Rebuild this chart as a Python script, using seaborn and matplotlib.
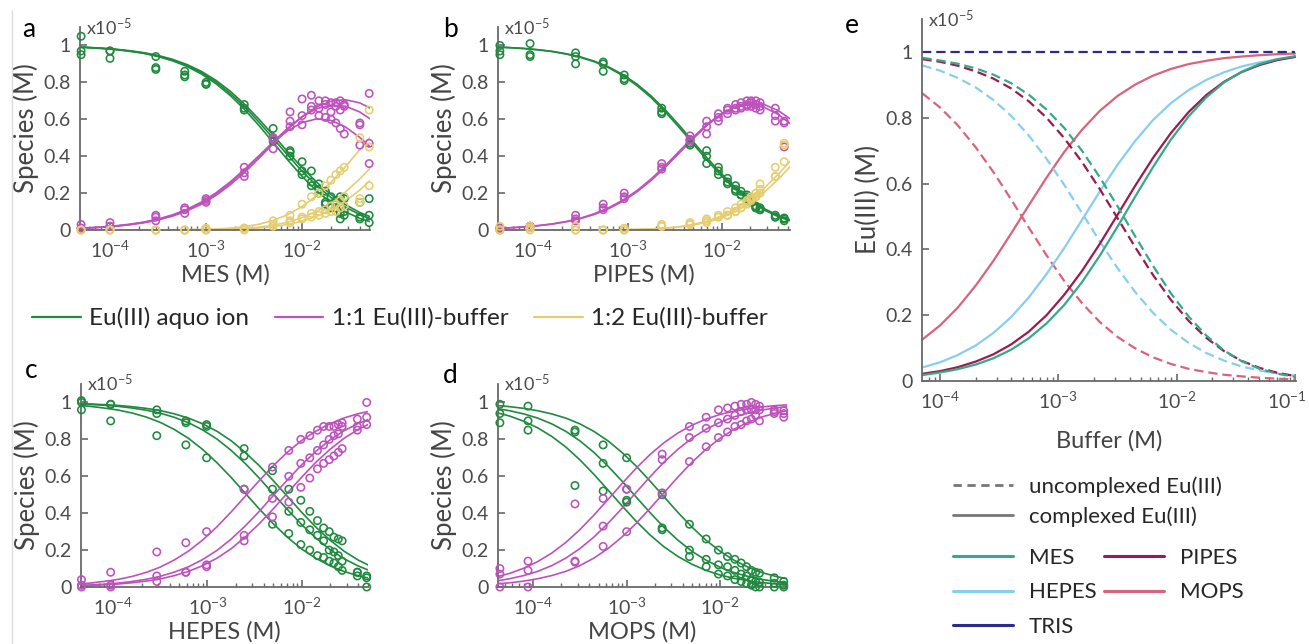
import matplotlib
matplotlib.use("Agg")
import numpy as np
import pandas as pd
import matplotlib.pyplot as plt
from matplotlib.lines import Line2D
from matplotlib.transforms import ScaledTranslation
from matplotlib.ticker import FixedLocator, LogLocator, NullFormatter
import seaborn as sns

# ------------------------------------------------------------------ data
# Buffer concentrations (M) at which the fitted speciation curves are drawn
fit_conc = [3.98e-5, 5.62e-5, 7.94e-5, 1.12e-4, 1.58e-4, 2.24e-4, 3.16e-4, 4.47e-4, 6.31e-4, 8.91e-4,
            1.26e-3, 1.78e-3, 2.51e-3, 3.55e-3, 5.01e-3, 7.08e-3, 1e-2, 1.41e-2, 2.0e-2, 2.82e-2,
            3.98e-2, 5.62e-2]
fit_conc_e = [7.08e-5, 1e-4, 1.41e-4, 2e-4, 2.82e-4, 3.98e-4, 5.62e-4, 7.94e-4, 1.12e-3, 1.58e-3,
              2.24e-3, 3.16e-3, 4.47e-3, 6.31e-3, 8.91e-3, 1.26e-2, 1.78e-2, 2.51e-2, 3.55e-2, 5.01e-2,
              7.08e-2, 0.1]

# Titration points (M buffer) of each experiment
mes_conc = [5e-5, 1e-4, 3e-4, 6e-4, 1e-3, 2.5e-3, 5e-3, 7.5e-3, 1e-2, 1.25e-2, 1.5e-2, 1.75e-2,
            2e-2, 2.25e-2, 2.5e-2, 2.75e-2, 4e-2, 5e-2]
pipes_conc = [4.4e-5, 9.2e-5, 2.8e-4, 5.5e-4, 9.2e-4, 2.3e-3, 4.6e-3, 6.9e-3, 9.2e-3, 1.15e-2, 1.4e-2,
              1.6e-2, 1.85e-2, 2.05e-2, 2.3e-2, 2.55e-2, 3.7e-2, 4.6e-2]
hepes_conc = [4.6e-5, 9.4e-5, 2.9e-4, 5.9e-4, 9.8e-4, 2.45e-3, 4.9e-3, 7.3e-3, 9.8e-3, 1.22e-2, 1.47e-2,
              1.71e-2, 1.96e-2, 2.2e-2, 2.45e-2, 2.69e-2, 3.9e-2, 4.9e-2]
mops_conc = [4.4e-5, 8.8e-5, 2.8e-4, 5.6e-4, 1e-3, 2.4e-3, 4.7e-3, 7.1e-3, 9.6e-3, 1.2e-2, 1.44e-2,
             1.68e-2, 1.92e-2, 2.16e-2, 2.4e-2, 2.64e-2, 3.8e-2, 4.8e-2]

# --- a: MES, three replicates (species in units of 1e-5 M)
mes_aquo_fit = [
    [.993, .990, .986, .980, .972, .961, .946, .925, .897, .860, .812, .753, .682, .601, .514, .424, .338, .260, .192, .138, .095, .064],
    [.992, .989, .985, .979, .970, .959, .943, .920, .891, .853, .803, .741, .669, .585, .496, .406, .319, .242, .176, .124, .084, .054],
    [.992, .989, .984, .978, .969, .957, .940, .917, .887, .846, .794, .730, .654, .567, .474, .380, .291, .213, .148, .099, .063, .039]]
mes_11_fit = [
    [.007, .010, .014, .020, .028, .039, .054, .075, .103, .139, .186, .244, .311, .388, .468, .546, .614, .666, .698, .706, .689, .650],
    [.008, .011, .015, .021, .029, .041, .057, .079, .108, .146, .195, .254, .323, .399, .478, .552, .614, .657, .677, .671, .640, .588],
    [.008, .011, .016, .022, .031, .043, .059, .082, .112, .151, .200, .260, .328, .402, .475, .538, .582, .602, .594, .559, .502, .433]]
mes_12_fit = [
    [0, 0, 0, 0, 0, 0, 0, 0, .001, .001, .002, .003, .006, .011, .018, .030, .048, .074, .110, .156, .216, .287],
    [0, 0, 0, 0, 0, 0, 0, 0, .001, .001, .003, .005, .009, .015, .026, .042, .067, .100, .147, .205, .276, .358],
    [0, 0, 0, 0, 0, 0, 0, .001, .002, .003, .005, .010, .018, .031, .052, .083, .127, .185, .258, .342, .435, .529]]
mes_aquo_pts = [[1.05, .97, .95], [.97, .97, .93], [.94, .88, .87], [.86, .84, .83], [.80, .79, .79],
                [.68, .66, .65], [.55, .50, .48], [.43, .42, .40], [.37, .32, .30], [.32, .26, .24],
                [.25, .22, .20], [.21, .15, .14], [.18, .13, .12], [.16, .14, .12], [.18, .09, .06],
                [.17, .10, .08], [.15, .07, .06], [.17, .08, .04]]
mes_11_pts = [[.03, .01, .01], [.04, .02, .02], [.08, .07, .05], [.12, .11, .09], [.17, .16, .15],
              [.34, .31, .29], [.50, .49, .44], [.64, .59, .56], [.71, .62, .57], [.73, .67, .65],
              [.70, .66, .62], [.70, .68, .61], [.69, .64, .60], [.69, .67, .58], [.70, .65, .55],
              [.68, .67, .52], [.58, .57, .46], [.74, .47, .36]]
mes_12_pts = [[0, 0, 0], [0, 0, 0], [0, 0, 0], [0, 0, 0], [.01, 0, 0],
              [.01, .01, 0], [.05, .03, .02], [.08, .05, .04], [.14, .07, .06], [.18, .09, .07],
              [.20, .10, .08], [.24, .11, .09], [.27, .13, .10], [.30, .14, .10], [.32, .16, .12],
              [.34, .18, .13], [.50, .17, .15], [.65, .45, .24]]

# --- b: PIPES, two replicates
pipes_aquo_fit = [
    [.992, .988, .984, .977, .968, .955, .938, .914, .883, .842, .790, .726, .651, .566, .476, .387, .303, .228, .165, .116, .078, .051],
    [.991, .988, .983, .976, .967, .953, .935, .911, .879, .836, .782, .717, .640, .554, .464, .374, .291, .218, .156, .108, .072, .046]]
pipes_11_fit = [
    [.008, .012, .016, .023, .032, .045, .062, .085, .116, .156, .207, .269, .340, .418, .497, .570, .630, .671, .688, .680, .647, .594],
    [.009, .012, .017, .024, .033, .046, .064, .089, .121, .162, .214, .277, .349, .428, .505, .576, .632, .668, .679, .665, .626, .567]]
pipes_12_fit = [
    [0, 0, 0, 0, 0, 0, 0, 0, .001, .001, .003, .005, .009, .016, .027, .043, .067, .101, .147, .204, .275, .356],
    [0, 0, 0, 0, 0, 0, 0, 0, .001, .002, .003, .006, .011, .018, .031, .049, .077, .114, .164, .227, .302, .386]]
pipes_aquo_pts = [[1.0, .97, .95], [1.01, .95, .94], [.96, .94, .90], [.91, .90, .86], [.84, .82, .81],
                  [.66, .64, .63], [.49, .47, .46], [.43, .40, .36], [.34, .32, .30], [.28, .26, .25],
                  [.24, .22, .21], [.21, .19, .19], [.19, .18, .17], [.16, .15, .15], [.13, .12, .12],
                  [.12, .11, .11], [.08, .07, .07], [.065, .06, .05]]
pipes_11_pts = [[.01, 0, .01], [.02, .02, .02], [.08, .06, .05], [.14, .12, .11], [.20, .18, .17],
                [.36, .34, .33], [.51, .49, .48], [.59, .56, .52], [.63, .61, .59], [.66, .65, .63],
                [.68, .66, .65], [.69, .67, .66], [.70, .68, .67], [.70, .69, .67], [.70, .68, .66],
                [.69, .67, .65], [.66, .62, .59], [.59, .58, .45]]
pipes_12_pts = [[.02, 0, 0], [.02, .01, 0], [.02, 0, 0], [0, 0, 0], [.01, 0, 0],
                [.03, .02, .02], [.04, .03, .03], [.06, .05, .04], [.08, .07, .07], [.10, .08, .08],
                [.12, .10, .10], [.14, .12, .12], [.16, .15, .14], [.18, .17, .16], [.20, .18, .18],
                [.25, .22, .20], [.34, .29, .29], [.47, .46, .37]]

# --- c: HEPES, three replicates (1:1 complex only)
hepes_aquo_fit = [
    [.985, .979, .970, .959, .943, .921, .892, .853, .805, .745, .674, .594, .509, .423, .342, .269, .206, .156, .115, .084, .061, .044],
    [.992, .989, .985, .979, .970, .958, .942, .919, .890, .851, .802, .741, .670, .590, .504, .419, .338, .266, .203, .153, .114, .083],
    [.994, .992, .988, .984, .977, .968, .956, .938, .915, .884, .844, .793, .730, .657, .576, .490, .405, .325, .254, .194, .146, .108]]
hepes_11_fit = [
    [.015, .021, .030, .041, .057, .079, .108, .147, .195, .255, .326, .406, .491, .577, .658, .731, .794, .844, .885, .916, .939, .956],
    [.008, .011, .015, .021, .030, .042, .058, .081, .110, .149, .198, .259, .330, .410, .496, .581, .662, .734, .797, .847, .886, .917],
    [.006, .008, .012, .016, .023, .032, .044, .062, .085, .116, .156, .207, .270, .343, .424, .510, .595, .675, .746, .806, .854, .892]]
hepes_aquo_pts = [[1.01, 1.0, .96], [.99, .99, .90], [.96, .94, .82], [.90, .89, .77], [.88, .87, .70],
                  [.75, .71, .53], [.63, .53, .34], [.53, .41, .29], [.47, .35, .23], [.41, .31, .20],
                  [.36, .28, .17], [.32, .25, .16], [.30, .20, .14], [.27, .19, .13], [.26, .17, .11],
                  [.25, .14, .09], [.08, .06, .08], [.06, .05, 0]]
hepes_11_pts = [[.04, .01, 0], [.08, .01, 0], [.19, .06, .03], [.24, .08, .08], [.30, .12, .11],
                [.53, .28, .25], [.65, .48, .38], [.74, .60, .46], [.80, .67, .54], [.82, .70, .59],
                [.85, .74, .64], [.87, .77, .67], [.87, .80, .69], [.87, .82, .71], [.88, .83, .73],
                [.89, .87, .75], [.91, .87, .85], [1.0, .92, .88]]

# --- d: MOPS, three replicates (1:1 complex only)
mops_aquo_fit = [
    [.946, .926, .898, .862, .816, .758, .689, .610, .526, .440, .357, .282, .218, .165, .123, .090, .065, .047, .034, .024, .017, .012],
    [.968, .955, .938, .915, .884, .843, .792, .729, .655, .574, .488, .403, .323, .253, .193, .145, .107, .078, .057, .041, .029, .021],
    [.984, .977, .968, .955, .938, .915, .884, .843, .792, .729, .656, .574, .489, .403, .324, .253, .194, .145, .107, .078, .057, .041]]
mops_11_fit = [
    [.054, .074, .102, .138, .184, .242, .311, .390, .474, .560, .643, .718, .782, .835, .877, .910, .935, .953, .966, .976, .983, .988],
    [.032, .045, .062, .085, .116, .157, .208, .271, .345, .426, .512, .597, .677, .747, .807, .855, .893, .922, .943, .959, .971, .979],
    [.016, .023, .032, .045, .062, .085, .116, .157, .208, .271, .344, .426, .511, .597, .676, .747, .806, .855, .893, .922, .943, .959]]
mops_aquo_pts = [[.99, .94, .89], [.98, .90, .85], [.84, .85, .55], [.77, .67, .52], [.70, .47, .46],
                 [.32, .31, .50], [.34, .20, .165], [.26, .15, .11], [.20, .12, .07], [.165, .11, .06],
                 [.15, .09, .04], [.13, .07, .03], [.11, .06, .02], [.09, .04, .01], [.08, .03, 0],
                 [.075, .025, 0], [.05, .02, 0], [.03, .01, 0]]
mops_11_pts = [[.10, .07, 0], [.14, .09, 0], [.45, .14, .135], [.48, .33, .22], [.53, .30, .53],
               [.72, .69, .51], [.87, .81, .68], [.92, .86, .76], [.96, .89, .81], [.97, .91, .84],
               [.98, .93, .87], [.99, .95, .88], [.99, .96, .90], [1.0, .96, .91], [.99, .96, .93],
               [.98, .96, .90], [.96, .95, .94], [.955, .94, .92]]

# --- e: modelled uncomplexed / complexed Eu(III) for each buffer
e_free = {
    "MES":   [.982, .974, .964, .950, .931, .905, .870, .825, .769, .700, .619, .531, .439, .350, .267, .196, .138, .093, .060, .037, .022, .013],
    "HEPES": [.959, .943, .921, .892, .854, .806, .746, .675, .596, .511, .424, .343, .270, .207, .156, .116, .085, .062, .044, .032, .023, .016],
    "PIPES": [.978, .970, .958, .941, .919, .889, .850, .800, .738, .666, .583, .495, .406, .322, .247, .183, .131, .091, .061, .040, .025, .015],
    "MOPS":  [.874, .831, .777, .710, .635, .552, .466, .382, .304, .237, .179, .134, .099, .072, .052, .037, .027, .019, .014, .010, .007, .005],
}
e_complexed = {
    "MES":   [.018, .026, .036, .050, .069, .095, .130, .175, .231, .300, .381, .469, .561, .650, .733, .804, .862, .907, .940, .963, .978, .987],
    "HEPES": [.041, .057, .079, .108, .146, .194, .254, .325, .404, .489, .576, .657, .730, .793, .844, .884, .915, .938, .956, .968, .977, .984],
    "PIPES": [.022, .030, .042, .059, .081, .111, .150, .200, .262, .334, .417, .505, .594, .678, .753, .817, .869, .909, .939, .960, .975, .985],
    "MOPS":  [.126, .169, .223, .290, .365, .448, .534, .618, .696, .763, .821, .866, .901, .928, .948, .963, .973, .981, .986, .990, .993, .995],
}
tris_conc = [7.08e-5, 0.1]
tris_free = [1.0, 1.0]

species_labels = ["Eu(III) aquo ion", "1:1 Eu(III)-buffer", "1:2 Eu(III)-buffer"]
buffer_order = ["MES", "HEPES", "TRIS", "PIPES", "MOPS"]

# ------------------------------------------------------------------ style
sns.set_theme(style="white")
plt.rcParams["font.family"] = ["Lato", "DejaVu Sans"]
plt.rcParams["mathtext.fontset"] = "custom"
plt.rcParams["mathtext.rm"] = "Lato"
plt.rcParams["mathtext.it"] = "Lato:italic"
plt.rcParams["mathtext.default"] = "regular"

SPECIES_COLORS = {"aquo": "#1f8a3d", "one": "#bd52bd", "two": "#e6cd70"}
BUFFER_COLORS = {"MES": "#36a98b", "HEPES": "#87ceef", "TRIS": "#2c2c8e",
                 "PIPES": "#9c1a4e", "MOPS": "#d9637c"}
AX_COLOR = "#6a6a6a"
TICK_COLOR = "#4a4a4a"
LABEL_COLOR = "#444444"

W, H = 1309, 644
fig = plt.figure(figsize=(W / 100, H / 100), dpi=100)


def add_axes(left, top, right, bottom):
    return fig.add_axes([left / W, 1 - bottom / H, (right - left) / W, (bottom - top) / H])


def fit_frame(conc, **curves):
    rows = []
    for sp, reps in curves.items():
        for r, vals in enumerate(reps):
            rows += [(c, v, sp, r) for c, v in zip(conc, vals)]
    return pd.DataFrame(rows, columns=["conc", "value", "species", "rep"])


def point_frame(conc, **points):
    rows = []
    for sp, triples in points.items():
        for c, vals in zip(conc, triples):
            rows += [(c, v, sp) for v in vals]
    return pd.DataFrame(rows, columns=["conc", "value", "species"])


def style_axes(ax, xlim, xticks, xlabel, ylabel, xlabelpad=2):
    ax.set_xlim(*xlim)
    ax.set_ylim(0, 1.1)
    sns.despine(ax=ax)
    for side in ("left", "bottom"):
        ax.spines[side].set_color(AX_COLOR)
        ax.spines[side].set_linewidth(1.3)
    ax.set_yticks([0, 0.2, 0.4, 0.6, 0.8, 1.0])
    ax.set_yticklabels(["0", "0.2", "0.4", "0.6", "0.8", "1"])
    ax.xaxis.set_major_locator(FixedLocator(xticks))
    ax.set_xticklabels([f"$10^{{{int(round(np.log10(t)))}}}$" for t in xticks])
    ax.xaxis.set_minor_locator(LogLocator(base=10, subs=np.arange(2, 10), numticks=20))
    ax.xaxis.set_minor_formatter(NullFormatter())
    ax.tick_params(which="both", direction="in", bottom=True, left=True,
                   color=AX_COLOR, labelcolor=TICK_COLOR, labelsize=14)
    ax.tick_params(which="major", length=5, width=1.2)
    ax.tick_params(which="minor", length=3, width=1.0)
    ax.tick_params(axis="x", pad=7)
    ax.tick_params(axis="y", pad=7)
    ax.set_xlabel(xlabel, fontsize=17, color=LABEL_COLOR, labelpad=xlabelpad)
    ax.set_ylabel(ylabel, fontsize=18.5, color=LABEL_COLOR, labelpad=3)
    ax.grid(False)
    ax.annotate("x10$^{-5}$", xy=(0, 1.1), xycoords=("axes fraction", "data"),
                xytext=(4, 0), textcoords="offset points", ha="left", va="center",
                fontsize=13, color=TICK_COLOR, annotation_clip=False)


def speciation_panel(ax, fits, pts, xlim, xlabel):
    ax.set_xscale("log")
    sns.lineplot(data=fits, x="conc", y="value", hue="species", units="rep", estimator=None,
                 sort=False, palette=SPECIES_COLORS, linewidth=1.2, legend=False, ax=ax)
    sns.scatterplot(data=pts, x="conc", y="value", hue="species", palette=SPECIES_COLORS,
                    s=28, linewidth=1.15, legend=False, ax=ax, zorder=3, clip_on=False)
    circles = ax.collections[-1]
    circles.set_edgecolors(circles.get_facecolors())
    circles.set_facecolors("none")
    style_axes(ax, xlim, [1e-4, 1e-3, 1e-2], xlabel, "Species (M)")


# ------------------------------------------------------------------ panels a-d
ax_a = add_axes(80, 27, 370, 230)
speciation_panel(ax_a,
                 fit_frame(fit_conc, aquo=mes_aquo_fit, one=mes_11_fit, two=mes_12_fit),
                 point_frame(mes_conc, aquo=mes_aquo_pts, one=mes_11_pts, two=mes_12_pts),
                 (4.87e-5, 0.051), "MES (M)")

ax_b = add_axes(498, 27, 790, 230)
speciation_panel(ax_b,
                 fit_frame(fit_conc, aquo=pipes_aquo_fit, one=pipes_11_fit, two=pipes_12_fit),
                 point_frame(pipes_conc, aquo=pipes_aquo_pts, one=pipes_11_pts, two=pipes_12_pts),
                 (4.2e-5, 0.053), "PIPES (M)")

ax_c = add_axes(81, 384, 368, 587)
speciation_panel(ax_c,
                 fit_frame(fit_conc, aquo=hepes_aquo_fit, one=hepes_11_fit),
                 point_frame(hepes_conc, aquo=hepes_aquo_pts, one=hepes_11_pts),
                 (4.55e-5, 0.0506), "HEPES (M)")

ax_d = add_axes(498, 384, 787, 587)
speciation_panel(ax_d,
                 fit_frame(fit_conc, aquo=mops_aquo_fit, one=mops_11_fit),
                 point_frame(mops_conc, aquo=mops_aquo_pts, one=mops_11_pts),
                 (4.2e-5, 0.052), "MOPS (M)")

# ------------------------------------------------------------------ panel e
ax_e = add_axes(922, 19, 1296, 381)
ax_e.set_xscale("log")
e_rows = []
for buf in ["MOPS", "HEPES", "PIPES", "MES"]:
    e_rows += [(c, v, buf, "uncomplexed") for c, v in zip(fit_conc_e, e_free[buf])]
    e_rows += [(c, v, buf, "complexed") for c, v in zip(fit_conc_e, e_complexed[buf])]
e_rows += [(c, v, "TRIS", "uncomplexed") for c, v in zip(tris_conc, tris_free)]
e_df = pd.DataFrame(e_rows, columns=["conc", "value", "buffer", "state"])
sns.lineplot(data=e_df, x="conc", y="value", hue="buffer", style="state",
             hue_order=["MOPS", "HEPES", "PIPES", "MES", "TRIS"],
             style_order=["uncomplexed", "complexed"],
             dashes={"uncomplexed": (4.2, 2.2), "complexed": ""},
             palette=BUFFER_COLORS, linewidth=1.6, estimator=None, sort=False,
             legend=False, ax=ax_e)
style_axes(ax_e, (7.03e-5, 0.102), [1e-4, 1e-3, 1e-2, 1e-1], "Buffer (M)", "Eu(III) (M)",
           xlabelpad=13)
# keep the last decade label inside the canvas
last_label = ax_e.get_xticklabels()[-1]
last_label.set_transform(last_label.get_transform()
                         + ScaledTranslation(-8 / 100, 0, fig.dpi_scale_trans))

# ------------------------------------------------------------------ legends
species_handles = [Line2D([], [], color=SPECIES_COLORS[k], lw=1.6) for k in ("aquo", "one", "two")]
fig.legend(species_handles, species_labels, loc="center left", bbox_to_anchor=(32 / W, 1 - 318 / H),
           ncol=3, frameon=False, fontsize=17.5, handlelength=2.0, handletextpad=0.35,
           columnspacing=1.05, borderpad=0, borderaxespad=0)

state_handles = [Line2D([], [], color="#777777", lw=2.0, dashes=(3, 2)),
                 Line2D([], [], color="#777777", lw=2.0)]
fig.legend(state_handles, ["uncomplexed Eu(III)", "complexed Eu(III)"], loc="center left",
           bbox_to_anchor=(953 / W, 1 - 501.5 / H), frameon=False, fontsize=16,
           handlelength=2.7, handletextpad=0.7, labelspacing=0.4, borderpad=0, borderaxespad=0)

buffer_handles = [Line2D([], [], color=BUFFER_COLORS[b], lw=2.2) for b in buffer_order]
fig.legend(buffer_handles, buffer_order, loc="center left", ncol=2,
           bbox_to_anchor=(953 / W, 1 - 592.5 / H), frameon=False, fontsize=16,
           handlelength=2.7, handletextpad=0.7, labelspacing=0.65, columnspacing=0.35,
           borderpad=0, borderaxespad=0)

# ------------------------------------------------------------------ panel letters
for letter, x, y in [("a", 22, 37), ("b", 443, 37), ("c", 25, 378), ("d", 443, 383), ("e", 845, 33)]:
    fig.text(x / W, 1 - y / H, letter, fontsize=19, color="black", va="baseline", ha="left")

fig.add_artist(Line2D([12 / W, 12 / W], [1 - 10 / H, 0], transform=fig.transFigure,
                      color="#dddddd", lw=1.0))

fig.savefig("out.png", dpi=100)
